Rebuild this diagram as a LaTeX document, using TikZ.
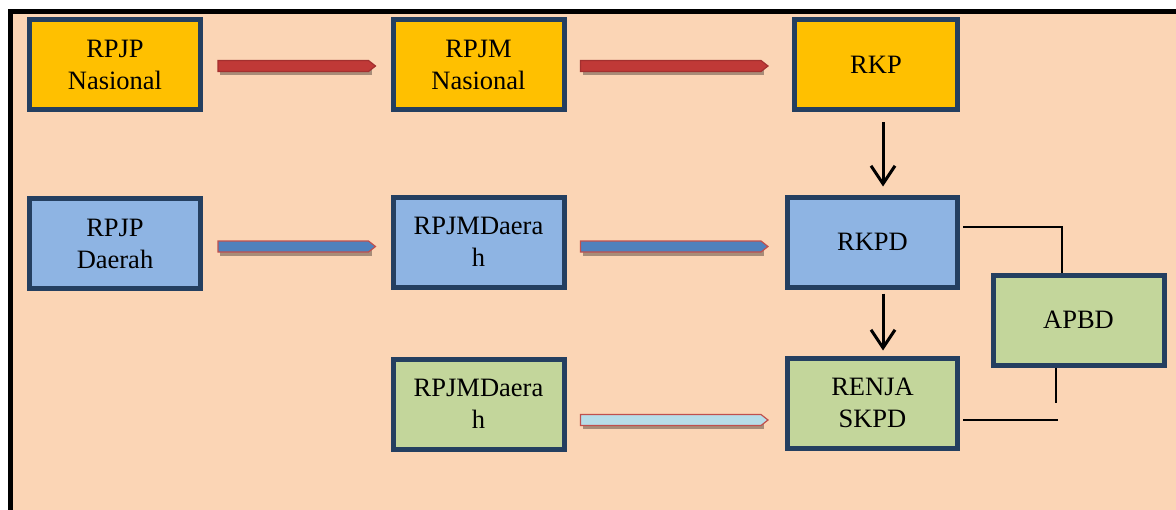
\documentclass[tikz,border=0pt]{standalone}
\usepackage{fontspec}
\setmainfont{Liberation Serif}
\usetikzlibrary{arrows.meta}

\definecolor{peach}{RGB}{251,213,181}
\definecolor{boxline}{RGB}{36,63,96}
\definecolor{gold}{RGB}{255,192,0}
\definecolor{skyblue}{RGB}{142,180,227}
\definecolor{olive}{RGB}{195,214,155}
\definecolor{barred}{RGB}{192,57,55}
\definecolor{barblue}{RGB}{79,129,189}
\definecolor{barlight}{RGB}{183,221,232}
\definecolor{bardraw}{RGB}{192,80,77}
\definecolor{barshade}{RGB}{168,140,120}

\tikzset{
  box/.style={draw=boxline, line width=5pt, align=center, inner sep=0pt,
    minimum width=171pt, minimum height=90pt,
    font=\fontsize{26.5}{32}\selectfont},
  nasbox/.style={box, fill=gold},
  daebox/.style={box, fill=skyblue},
  skpdbox/.style={box, fill=olive},
  downarrow/.style={line width=3pt, -{Straight Barb[length=18pt,width=24pt]}},
  link/.style={line width=2.5pt},
}

% flat arrow between two points: start, end, fill, border
\newcommand{\bararrow}[4]{%
  \path #1 coordinate (bs) #2 coordinate (be);
  \fill[barshade] ([shift={(2,9)}]bs) -- ([shift={(-4,9)}]be) --
    ([shift={(-4,-1)}]be) -- ([shift={(2,-1)}]bs) -- cycle;
  \filldraw[fill=#3, draw=#4, line width=1.2pt] ([shift={(0,-5.5)}]bs) --
    ([shift={(-7,-5.5)}]be) -- (be) -- ([shift={(-7,5.5)}]be) --
    ([shift={(0,5.5)}]bs) -- cycle;
}

\begin{document}
\begin{tikzpicture}[x=1pt, y=-1pt]
  \useasboundingbox (0,0) rectangle (1176,509);
  \clip (0,0) rectangle (1176,509);
  \draw[fill=peach, line width=5pt] (10,11.5) rectangle (1200,540);

  % national level
  \node[nasbox] (rpjpn) at (115,64.5) {RPJP\\Nasional};
  \node[nasbox] (rpjmn) at (478.5,64.5) {RPJM\\Nasional};
  \node[nasbox, minimum width=163pt] (rkp) at (876,64.5) {RKP};

  % regional level
  \node[daebox] (rpjpd) at (115,243.5) {RPJP\\Daerah};
  \node[daebox] (rpjmd) at (478.5,242) {RPJMDaera\\h};
  \node[daebox, minimum width=170pt] (rkpd) at (872.5,242) {RKPD};

  % SKPD level
  \node[skpdbox] (rpjmds) at (478.5,404) {RPJMDaera\\h};
  \node[skpdbox, minimum width=170pt] (renja) at (872.5,403) {RENJA\\SKPD};
  \node[skpdbox] (apbd) at (1078.5,320) {APBD};

  % horizontal bars
  \bararrow{([shift={(15,1.5)}]rpjpn.east)}{([shift={(-15,1.5)}]rpjmn.west)}{barred}{barred!85!black}
  \bararrow{([shift={(14,1.5)}]rpjmn.east)}{([shift={(-24,1.5)}]rkp.west)}{barred}{barred!85!black}
  \bararrow{([shift={(15,3)}]rpjpd.east)}{([shift={(-15,4.5)}]rpjmd.west)}{barblue}{bardraw}
  \bararrow{([shift={(14,4.5)}]rpjmd.east)}{([shift={(-17,4.5)}]rkpd.west)}{barblue}{bardraw}
  \bararrow{([shift={(14,16)}]rpjmds.east)}{([shift={(-17,17)}]renja.west)}{barlight}{bardraw}

  % vertical arrows
  \draw[downarrow] ([shift={(7,10)}]rkp.south) -- ([shift={(10.5,-8)}]rkpd.north);
  \draw[downarrow] ([shift={(10.5,4)}]rkpd.south) -- ([shift={(10.5,-5)}]renja.north);

  % links to APBD
  \coordinate (stub) at ([shift={(-22.5,35)}]apbd.south);
  \draw[link] ([shift={(3,-15)}]rkpd.east) -| ([xshift=-16.5pt]apbd.north);
  \draw[link] ([xshift=-22.5pt]apbd.south) -- (stub);
  \draw[link] ([shift={(3,17)}]renja.east) -- ([shift={(2,17)}]renja.east -| stub);
\end{tikzpicture}
\end{document}
